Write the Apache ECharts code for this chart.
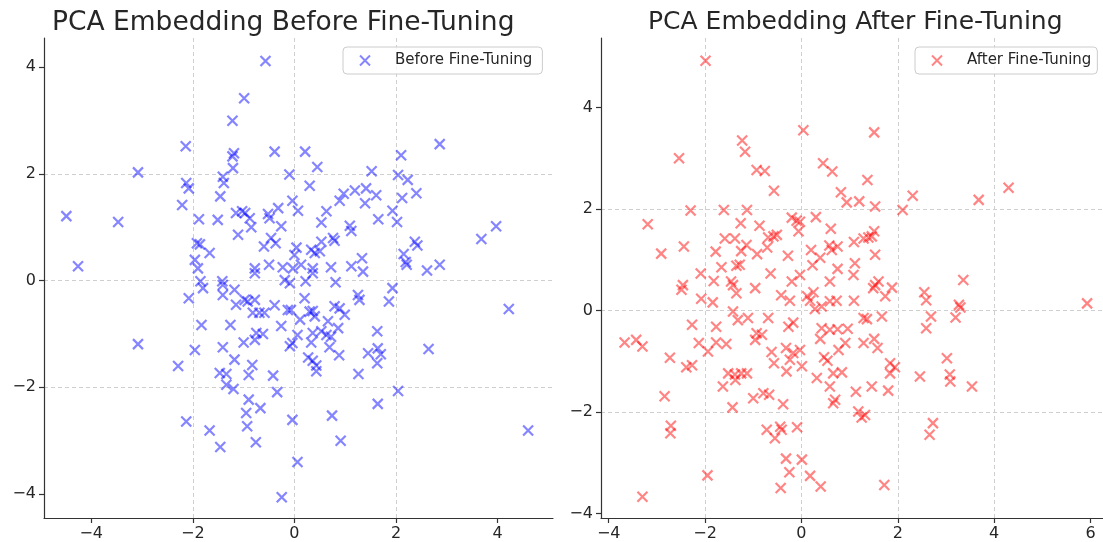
<!DOCTYPE html>
<html>
<head>
<meta charset="utf-8">
<script src="https://cdn.jsdelivr.net/npm/echarts@6/dist/echarts.min.js"></script>
<style>
  html, body { margin: 0; padding: 0; background: #fff; }
  #chart { width: 1103px; height: 542px; }
</style>
</head>
<body>
<div id="chart"></div>
<script>
// PCA coordinates, [x, y]
const beforePoints = [
  [-2.14,2.52],[-3.08,2.03],[-2.13,1.83],[-2.08,1.73],[-2.21,1.42],[-4.49,1.21],[-3.47,1.10],[-1.88,1.15],
  [-1.92,0.70],[-1.86,0.68],[-1.67,0.52],[-1.96,0.39],[-4.26,0.27],[-1.90,0.23],
  [-0.57,4.12],[-0.99,3.42],[-1.22,3.00],[-1.19,2.39],[-1.22,2.33],[-0.39,2.42],[0.21,2.42],[0.45,2.13],
  [-1.21,2.11],[-1.41,1.95],[-1.39,1.83],[-0.10,1.99],[0.30,1.78],[1.52,2.05],[-1.46,1.58],[1.19,1.69],
  [1.41,1.73],[1.61,1.60],[0.97,1.63],[0.89,1.50],[1.39,1.45],[-0.04,1.50],[0.07,1.31],[-0.32,1.36],
  [0.63,1.30],[-1.51,1.14],[-1.15,1.27],[-1.03,1.30],[-0.97,1.27],[-0.88,1.17],[-0.85,1.00],[-0.52,1.25],
  [-0.49,1.17],[-0.26,1.02],[0.53,1.09],[1.65,1.15],[1.09,1.03],[1.12,0.93],[-1.11,0.86],[-0.46,0.80],
  [-0.60,0.64],[-0.37,0.70],[0.76,0.80],[0.79,0.75],[0.04,0.62],[0.00,0.48],[0.33,0.58],[0.40,0.52],
  [0.53,0.73],[0.50,0.55],[1.33,0.42],[1.12,0.27],[-0.78,0.23],[-0.50,0.30],[-0.23,0.25],[-0.03,0.23],
  [0.13,0.30],[0.36,0.23],[0.72,0.25],[1.35,0.17],[-0.78,0.14],[0.36,0.14],
  [2.86,2.56],[2.10,2.35],[2.04,1.98],[2.23,1.89],[2.40,1.64],[2.12,1.55],[1.93,1.31],[2.02,1.10],
  [3.97,1.02],[3.68,0.78],[2.37,0.73],[2.42,0.66],[2.15,0.50],[2.19,0.35],[2.21,0.30],[2.86,0.30],[2.61,0.19],
  [-1.85,-0.01],[-1.80,-0.14],[-2.08,-0.33],[-1.83,-0.83],[-3.08,-1.19],[-1.96,-1.30],[-2.29,-1.60],
  [-2.13,-2.64],[-1.67,-2.81],
  [-1.42,-0.01],[-1.41,-0.08],[-0.19,0.01],[-0.09,-0.05],[0.22,-0.01],[0.81,-0.03],[-1.18,-0.17],[-1.41,-0.27],
  [-0.98,-0.36],[-0.92,-0.39],[-0.78,-0.36],[-1.15,-0.45],[-0.39,-0.46],[0.20,-0.33],[-0.82,-0.60],[-0.69,-0.60],
  [-0.59,-0.60],[-0.13,-0.55],[-0.07,-0.55],[0.11,-0.73],[0.30,-0.58],[0.36,-0.57],[0.40,-0.67],[0.79,-0.48],
  [0.89,-0.52],[0.99,-0.64],[1.25,-0.27],[1.28,-0.36],[-1.26,-0.83],[-0.26,-0.85],[0.66,-0.76],[-0.75,-0.98],
  [-0.62,-1.00],[-0.78,-1.11],[-1.00,-1.16],[0.06,-1.02],[0.36,-0.98],[0.33,-1.16],[0.53,-0.95],[0.63,-1.02],
  [0.72,-1.05],[0.86,-0.89],[1.63,-0.95],[-1.41,-1.25],[-0.09,-1.23],[-0.04,-1.17],[0.69,-1.25],[0.88,-1.40],
  [1.45,-1.36],[1.64,-1.27],[1.70,-1.38],[0.27,-1.44],[0.36,-1.50],[0.43,-1.59],[0.43,-1.70],[-1.18,-1.48],
  [-0.83,-1.58],[1.63,-1.55],[-1.47,-1.73],[-1.34,-1.75],[-0.90,-1.77],[-0.42,-1.78],[1.26,-1.75],[-1.34,-1.95],
  [-1.20,-2.03],[-0.34,-2.09],[-0.90,-2.23],[-0.67,-2.39],[-0.95,-2.48],[1.64,-2.31],[-0.93,-2.73],[-0.04,-2.61],
  [0.74,-2.53],[-0.76,-3.03],[-1.46,-3.12],[0.91,-3.00],[0.06,-3.40],[-0.25,-4.06],
  [1.93,-0.14],[1.86,-0.39],[2.64,-1.28],[2.04,-2.07],[4.22,-0.53],[4.60,-2.81]
];

const afterPoints = [
  [-1.99,4.92],[-1.23,3.35],[-1.17,3.13],[-2.54,3.00],[-2.30,1.97],[-1.61,1.98],[-1.13,1.98],[-1.26,1.72],
  [-3.19,1.70],[-1.59,1.42],[-1.38,1.42],[-2.44,1.26],[-1.14,1.29],[-1.25,1.17],[-2.91,1.12],[-1.78,1.16],
  [-1.66,0.85],[-1.35,0.88],[-1.28,0.90],[-2.09,0.73],
  [0.04,3.55],[1.51,3.51],[-0.93,2.77],[-0.76,2.75],[0.45,2.90],[0.64,2.74],[1.37,2.57],[-0.57,2.36],
  [0.82,2.33],[0.94,2.13],[1.20,2.15],[1.53,2.05],[2.10,1.98],[2.31,2.26],[-0.87,1.67],[-0.20,1.83],
  [-0.10,1.77],[-0.03,1.75],[-0.06,1.56],[0.30,1.84],[0.61,1.61],[-0.69,1.44],[-0.58,1.46],[-0.51,1.49],
  [-0.71,1.24],[-0.92,1.11],[-0.28,1.08],[0.20,1.19],[0.58,1.28],[0.63,1.19],[0.75,1.26],[1.09,1.35],
  [1.29,1.42],[1.39,1.44],[1.51,1.56],[1.46,1.46],[1.53,1.10],[0.39,1.04],[0.23,0.89],[1.11,0.93],
  [0.75,0.82],[-0.64,0.73],[-0.03,0.70],[1.08,0.70],
  [3.68,2.18],[4.30,2.42],[3.36,0.60],
  [-2.46,0.50],[-2.49,0.41],[-1.82,0.58],[-2.08,0.23],[-1.84,0.16],[-1.46,0.57],[-1.42,0.50],[-1.35,0.34],
  [-1.42,-0.02],[-1.32,-0.19],[-1.11,-0.15],[-2.27,-0.28],[-1.77,-0.32],[-3.67,-0.63],[-3.43,-0.58],[-3.30,-0.71],
  [-2.13,-0.64],[-1.94,-0.81],[-1.77,-0.63],[-1.56,-0.66],[-2.73,-0.93],[-2.39,-1.12],[-2.27,-1.08],[-1.52,-1.24],
  [-1.38,-1.26],[-1.25,-1.24],[-1.13,-1.24],[-1.37,-1.37],[-1.63,-1.50],[-2.84,-1.69],[-1.43,-1.91],[-2.71,-2.27],
  [-2.72,-2.42],[-1.95,-3.25],[-3.30,-3.67],
  [-0.96,0.44],[-0.20,0.57],[0.59,0.57],[1.53,0.50],[1.60,0.57],[1.88,0.45],[-0.42,0.30],[-0.24,0.19],
  [0.12,0.28],[0.18,0.19],[0.25,0.36],[0.28,0.03],[0.42,0.08],[0.59,0.18],[0.73,0.19],[1.09,0.19],
  [1.49,0.44],[1.74,0.28],[-0.69,-0.15],[-0.27,-0.32],[-0.17,-0.24],[-0.93,-0.45],[-0.82,-0.48],[-0.96,-0.58],
  [0.42,-0.35],[0.59,-0.38],[0.75,-0.37],[0.96,-0.36],[0.39,-0.56],[1.29,-0.15],[1.36,-0.17],[1.67,-0.12],
  [0.91,-0.64],[0.77,-0.78],[1.29,-0.64],[1.51,-0.56],[1.58,-0.74],[-0.62,-0.82],[-0.32,-0.74],[-0.17,-0.84],
  [-0.03,-0.78],[-0.24,-0.97],[0.47,-0.92],[0.54,-0.99],[-0.57,-1.04],[0.01,-1.10],[-0.31,-1.20],[0.66,-1.24],
  [0.84,-1.22],[0.32,-1.33],[1.84,-1.04],[1.94,-1.12],[1.84,-1.24],[0.59,-1.50],[1.13,-1.60],[1.46,-1.50],
  [1.80,-1.58],[-1.00,-1.73],[-0.79,-1.63],[-0.67,-1.66],[-0.38,-1.85],[0.70,-1.76],[0.66,-1.83],[1.18,-1.99],
  [1.32,-2.06],[1.25,-2.11],[-0.72,-2.35],[-0.55,-2.52],[-0.44,-2.29],[-0.41,-2.35],[-0.09,-2.30],[-0.32,-2.92],
  [0.01,-2.94],[-0.25,-3.19],[0.18,-3.26],[0.40,-3.47],[-0.43,-3.50],[1.72,-3.44],
  [2.46,-1.30],[2.55,0.36],[2.59,0.20],[3.27,0.11],[3.30,0.06],[2.69,-0.12],[3.20,-0.14],[2.59,-0.35],
  [3.02,-0.94],[3.08,-1.26],[3.09,-1.40],[3.54,-1.50],[2.73,-2.22],[2.66,-2.45],[5.93,0.14]
];

const beforeTicks = [-4, -2, 0, 2, 4];
const afterXTicks = [-4, -2, 0, 2, 4, 6];
const afterYTicks = [-4, -2, 0, 2, 4];
const titles = ['PCA Embedding Before Fine-Tuning', 'PCA Embedding After Fine-Tuning'];
const seriesNames = ['Before Fine-Tuning', 'After Fine-Tuning'];

const FONT = 'DejaVu Sans';
const CROSS = 'path://M0,0L10,10M10,0L0,10';
// legend icon: cross on the left, a zero-length segment widens the box so the text sits further right
const LEGEND_CROSS = 'path://M0,0L10,10M10,0L0,10M30,5L30,5';
const BLUE = 'rgba(0,0,255,0.6)';
const RED = 'rgba(255,0,0,0.6)';

const fmt = (v) => (v < 0 ? '\u2212' + Math.abs(v) : String(v));

function valueAxis(gridIndex, min, max, ticks) {
  return {
    type: 'value',
    gridIndex: gridIndex,
    min: min,
    max: max,
    minInterval: 2,
    maxInterval: 2,
    axisLine: { show: true, onZero: false, lineStyle: { color: '#333', width: 1.2 } },
    axisTick: { show: true, length: 5, customValues: ticks, lineStyle: { color: '#333', width: 1.2 } },
    axisLabel: {
      customValues: ticks, formatter: fmt, fontFamily: FONT, fontSize: 16,
      color: '#262626', margin: 8
    },
    splitLine: {
      show: true, showMinLine: false, showMaxLine: false,
      lineStyle: { color: '#cfcfcf', type: [4, 3], width: 1 }
    }
  };
}

function legendFor(name, color, left, padRight) {
  return {
    data: [{ name: name, icon: LEGEND_CROSS, itemStyle: { color: color, borderColor: color, borderWidth: 2 } }],
    left: left,
    top: 47,
    selectedMode: false,
    padding: [6, padRight, 6, 16],
    itemWidth: 30,
    itemHeight: 10,
    borderColor: '#cccccc',
    borderWidth: 1,
    borderRadius: 4,
    backgroundColor: 'rgba(255,255,255,0.8)',
    textStyle: { fontFamily: FONT, fontSize: 15, color: '#262626' }
  };
}

function scatter(name, data, idx, color) {
  return {
    type: 'scatter',
    name: name,
    xAxisIndex: idx,
    yAxisIndex: idx,
    data: data,
    symbol: CROSS,
    symbolSize: 10,
    itemStyle: { color: color, borderColor: color, borderWidth: 2.2 },
    emphasis: { disabled: true }
  };
}

const chart = echarts.init(document.getElementById('chart'), null, { renderer: 'canvas' });

chart.setOption({
  animation: false,
  backgroundColor: '#ffffff',
  textStyle: { fontFamily: FONT },
  title: [
    { text: titles[0], left: 47, top: 5, textStyle: { fontFamily: FONT, fontSize: 26.5, fontWeight: 'normal', color: '#262626' } },
    { text: titles[1], left: 643, top: 5, textStyle: { fontFamily: FONT, fontSize: 25, fontWeight: 'normal', color: '#262626' } }
  ],
  legend: [
    legendFor(seriesNames[0], BLUE, 343, 10),
    legendFor(seriesNames[1], RED, 915, 6)
  ],
  grid: [
    { left: 44, right: 550, top: 38, bottom: 24, outerBoundsMode: 'none' },
    { left: 601, right: 0, top: 38, bottom: 24, outerBoundsMode: 'none' }
  ],
  xAxis: [
    valueAxis(0, -4.93, 5.09, beforeTicks),
    valueAxis(1, -4.16, 6.26, afterXTicks)
  ],
  yAxis: [
    valueAxis(0, -4.45, 4.55, beforeTicks),
    valueAxis(1, -4.09, 5.37, afterYTicks)
  ],
  series: [
    scatter(seriesNames[0], beforePoints, 0, BLUE),
    scatter(seriesNames[1], afterPoints, 1, RED)
  ]
});
</script>
</body>
</html>
